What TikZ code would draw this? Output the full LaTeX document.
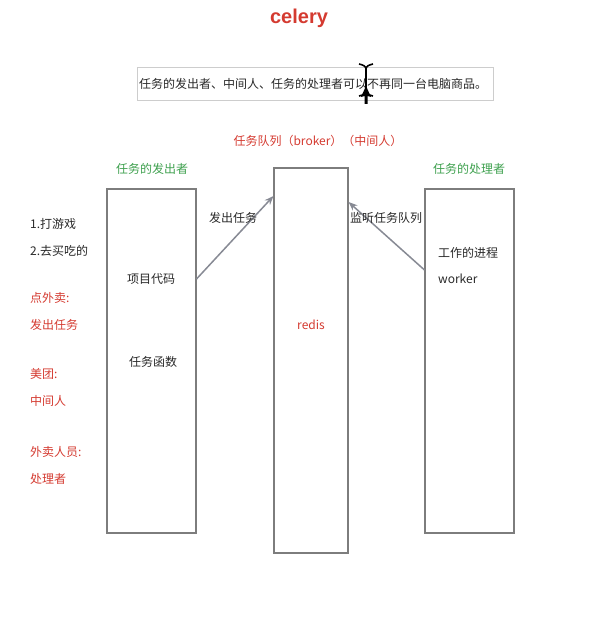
\documentclass[tikz,border=0pt]{standalone}
\usepackage{fontspec}
\setmainfont{Noto Sans CJK SC}
\newfontfamily\titlefont{Liberation Sans}
\usetikzlibrary{arrows.meta}
\definecolor{cred}{RGB}{212,58,48}
\definecolor{cgreen}{RGB}{62,160,78}
\definecolor{cbox}{RGB}{125,125,125}
\definecolor{carr}{RGB}{135,138,148}
\definecolor{ctext}{RGB}{40,40,40}
\tikzset{
  box/.style={draw=cbox, line width=1.4pt, minimum width=#1, inner sep=0pt},
  lbl/.style={font=\fontsize{12}{14}\selectfont, text=ctext, inner sep=0pt},
  redlbl/.style={lbl, text=cred},
  greenlbl/.style={lbl, text=cgreen},
  leftlbl/.style={lbl, anchor=west},
  arr/.style={draw=carr, line width=1.5pt, -{Stealth[length=9pt,width=7pt]}},
}
\begin{document}
\begin{tikzpicture}[x=1pt,y=-1pt]
\useasboundingbox (0,0) rectangle (590,631);
% title
\node[font=\titlefont\bfseries\fontsize{20}{24}\selectfont, text=cred] (title) at (299,18) {celery};
% caption
\node[draw={rgb,255:red,205;green,205;blue,205}, line width=0.8pt, minimum width=356pt, minimum height=33pt, inner sep=0pt] (capbox) at (315,83.5) {};
\node[lbl] (cap) at (313,84) {任务的发出者、中间人、任务的处理者可以不再同一台电脑商品。};
% cursor
\draw[line width=2.2pt, black] (366,68) -- (366,92);
\draw[line width=1.6pt, black] (359,64) .. controls (363,65) and (366,66) .. (366,69) .. controls (366,66) and (369,65) .. (373,64);
\draw[line width=1.6pt, black] (359,96) .. controls (363,95) and (366,94) .. (366,91) .. controls (366,94) and (369,95) .. (373,96);
\fill[black] (366,86) -- (361,97) -- (364.5,96) -- (364.5,104) -- (367.5,104) -- (367.5,96) -- (371,97) -- cycle;
% headings
\node[redlbl] (broker) at (318,141) {任务队列（broker）（中间人）};
\node[greenlbl] (sender) at (152,169) {任务的发出者};
\node[greenlbl] (worker) at (469,169) {任务的处理者};
% boxes
\node[box=89pt, minimum height=344pt] (L) at (151.5,361) {};
\node[box=74pt, minimum height=385pt] (M) at (311,360.5) {};
\node[box=89pt, minimum height=344pt] (R) at (469.5,361) {};
% box texts
\node[lbl] (l1) at (151,279) {项目代码};
\node[lbl] (l2) at (153,362) {任务函数};
\node[redlbl] (redis) at (311,325) {redis};
\node[leftlbl] (r1) at (438,253) {工作的进程};
\node[leftlbl] (r2) at (438,279) {worker};
% arrows
\coordinate (a1s) at (196.5,279);
\coordinate (a1e) at (273.5,196);
\coordinate (a2s) at (424.5,270);
\coordinate (a2e) at (348.5,202);
\draw[arr] (a1s) -- (a1e);
\draw[arr] (a2s) -- (a2e);
\node[lbl] (send) at (233,218) {发出任务};
\node[lbl] (listen) at (386,218) {监听任务队列};
% left notes
\node[leftlbl] (n1) at (30,224) {1.打游戏};
\node[leftlbl] (n2) at (30,251) {2.去买吃的};
\node[leftlbl, text=cred] (n3) at (30,298) {点外卖:};
\node[leftlbl, text=cred] (n4) at (30,325) {发出任务};
\node[leftlbl, text=cred] (n5) at (30,374) {美团:};
\node[leftlbl, text=cred] (n6) at (30,401) {中间人};
\node[leftlbl, text=cred] (n7) at (30,452) {外卖人员:};
\node[leftlbl, text=cred] (n8) at (30,479) {处理者};
\end{tikzpicture}
\end{document}
